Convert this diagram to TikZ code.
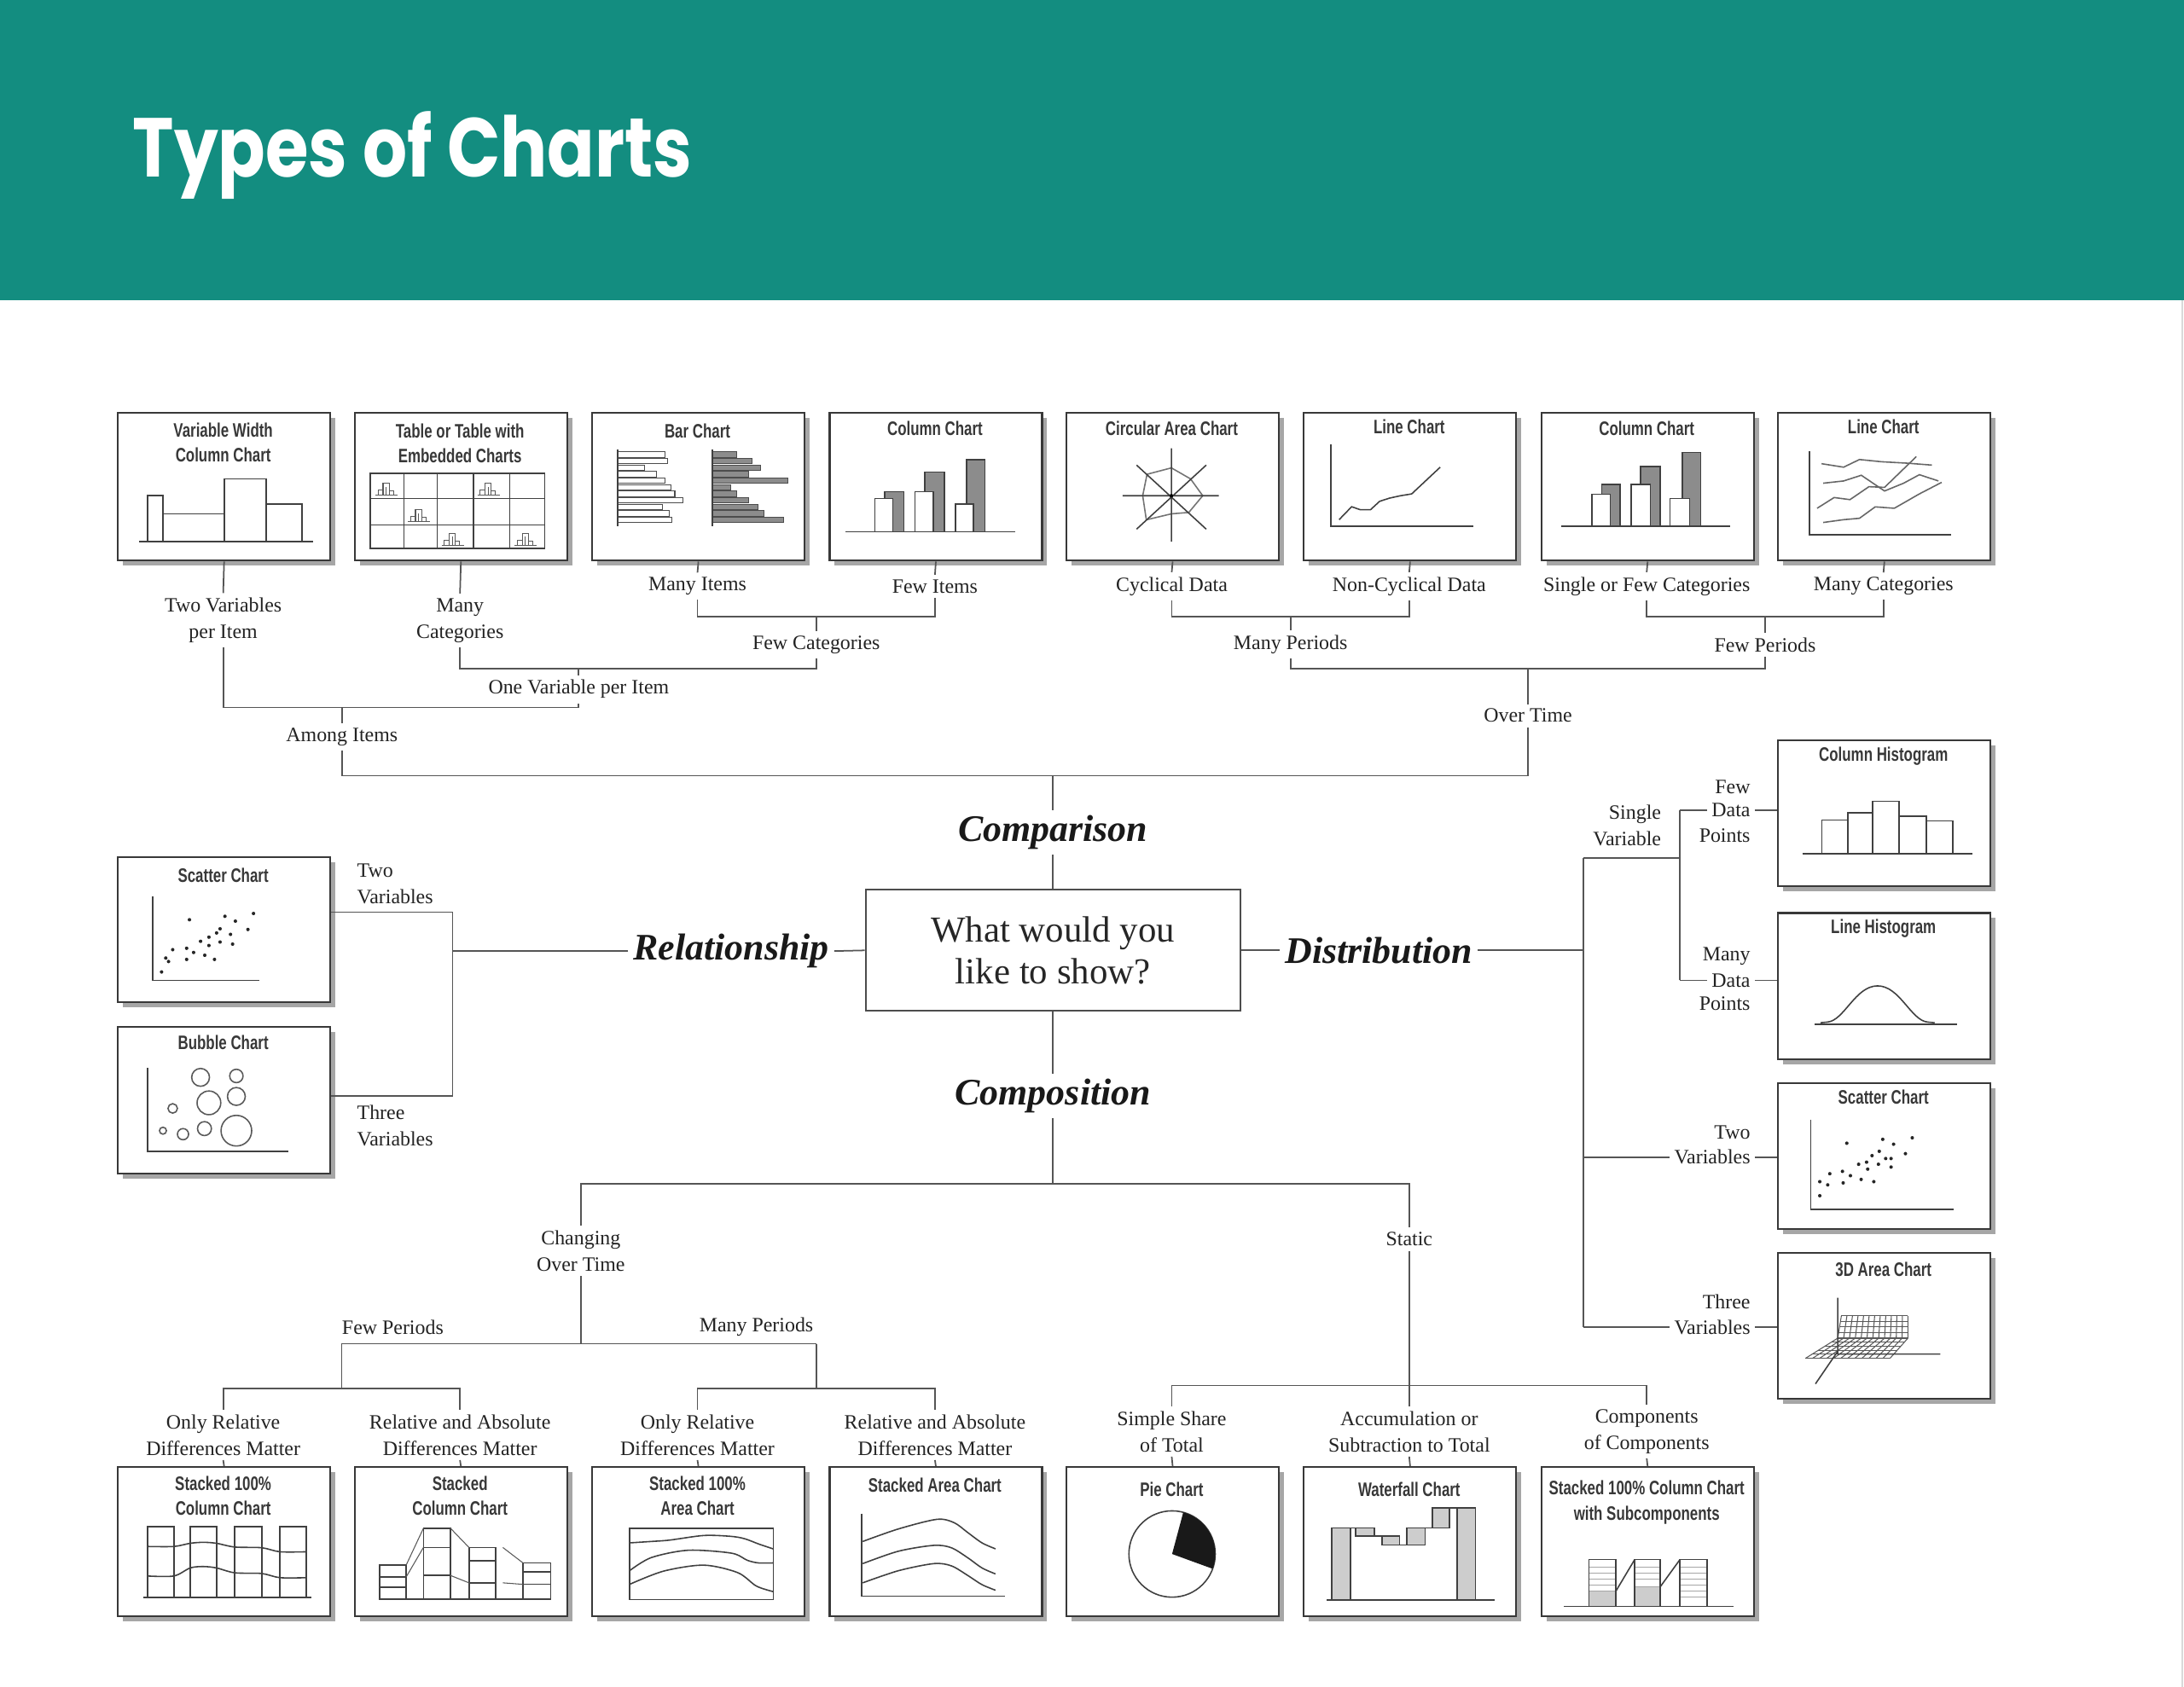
\documentclass[tikz,border=0pt]{standalone}
\usepackage{fontspec}
\setmainfont{Liberation Serif}
\newfontfamily\ttlfont{Liberation Sans}
\newfontfamily\hdfont{Poppins}
\usetikzlibrary{shadows}
\definecolor{tealband}{RGB}{19,141,128}
\definecolor{lncol}{RGB}{85,85,85}
\definecolor{txcol}{RGB}{35,35,35}
\definecolor{dkbar}{RGB}{140,140,140}
\definecolor{ltbar}{RGB}{205,205,205}
\newcommand\ctitle[1]{\scalebox{0.74}[1]{\ttlfont\bfseries\fontsize{6.5pt}{8.3pt}\selectfont\begin{tabular}{@{}c@{}}#1\end{tabular}}}
\tikzset{
  cbox/.style={draw=black!78, line width=0.6pt, fill=white, inner sep=0pt, anchor=north west,
    minimum width=2.49cm, drop shadow={shadow xshift=0.06cm,shadow yshift=-0.06cm,fill=black!35,opacity=1}},
  ttl/.style={inner sep=0pt, text=black!78},
  lbl/.style={font=\fontsize{6.8pt}{8.8pt}\selectfont, align=center, inner sep=1.4pt, text=txcol},
  mainlbl/.style={font=\fontsize{12.5pt}{14pt}\selectfont\bfseries\itshape, inner sep=1.5pt, text=black!90},
  qbox/.style={draw=black!70, line width=0.6pt, minimum width=4.392cm, minimum height=1.42cm, align=center,
    font=\fontsize{12.2pt}{14pt}\selectfont, text=black!85},
  conn/.style={draw=lncol, line width=0.5pt},
  ch/.style={draw=black!75, line width=0.45pt},
  chthin/.style={draw=black!65, line width=0.3pt},
}
\begin{document}
\begin{tikzpicture}[x=0.016327cm, y=-0.016327cm]
\useasboundingbox (0,0) rectangle (1568,1211.5);
\fill[white] (0,0) rectangle (1568,1211.5);
\fill[tealband] (0,0) rectangle (1568,215.5);
\draw[black!15, line width=0.6pt] (1566.8,215.5) -- (1566.8,1211.5);
\node[anchor=base west, inner sep=0pt, text=white] (title) at (95,127)
  {\scalebox{0.835}[1]{\hdfont\bfseries\fontsize{27.9pt}{30pt}\selectfont Types of Charts}};

% ---------- chart boxes ----------
\node[cbox, minimum height=1.7307cm] (t1) at (84,296) {};
\node[cbox, minimum height=1.7307cm] (t2) at (254,296) {};
\node[cbox, minimum height=1.7307cm] (t3) at (424.5,296) {};
\node[cbox, minimum height=1.7307cm] (t4) at (595,296) {};
\node[cbox, minimum height=1.7307cm] (t5) at (765,296) {};
\node[cbox, minimum height=1.7307cm] (t6) at (935.5,296) {};
\node[cbox, minimum height=1.7307cm] (t7) at (1106,296) {};
\node[cbox, minimum height=1.7307cm] (t8) at (1276,296) {};
\node[cbox, minimum height=1.698cm] (sc1) at (84,615) {};
\node[cbox, minimum height=1.714cm] (bb) at (84,737) {};
\node[cbox, minimum height=1.714cm] (chh) at (1276,531) {};
\node[cbox, minimum height=1.714cm] (lh) at (1276,655) {};
\node[cbox, minimum height=1.714cm] (sc2) at (1276,777) {};
\node[cbox, minimum height=1.714cm] (a3) at (1276,899) {};
\node[cbox, minimum height=1.747cm] (b1) at (84,1053) {};
\node[cbox, minimum height=1.747cm] (b2) at (254,1053) {};
\node[cbox, minimum height=1.747cm] (b3) at (424.5,1053) {};
\node[cbox, minimum height=1.747cm] (b4) at (595,1053) {};
\node[cbox, minimum height=1.747cm] (b5) at (765,1053) {};
\node[cbox, minimum height=1.747cm] (b6) at (935.5,1053) {};
\node[cbox, minimum height=1.747cm] (b7) at (1106,1053) {};

% ---------- box titles ----------
\node[ttl] (t1t) at (160.25,319) {\ctitle{Variable Width\\Column Chart}};
\node[ttl] (t2t) at (330.25,320) {\ctitle{Table or Table with\\Embedded Charts}};
\node[ttl] (t3t) at (500.75,311) {\ctitle{Bar Chart}};
\node[ttl] (t4t) at (671.25,309) {\ctitle{Column Chart}};
\node[ttl] (t5t) at (841.25,309) {\ctitle{Circular Area Chart}};
\node[ttl] (t6t) at (1011.75,308) {\ctitle{Line Chart}};
\node[ttl] (t7t) at (1182.25,309) {\ctitle{Column Chart}};
\node[ttl] (t8t) at (1352.25,308) {\ctitle{Line Chart}};
\node[ttl] (sc1t) at (160.25,630) {\ctitle{Scatter Chart}};
\node[ttl] (bbt) at (160.25,750) {\ctitle{Bubble Chart}};
\node[ttl] (chht) at (1352.25,543) {\ctitle{Column Histogram}};
\node[ttl] (lht) at (1352.25,667) {\ctitle{Line Histogram}};
\node[ttl] (sc2t) at (1352.25,789) {\ctitle{Scatter Chart}};
\node[ttl] (a3t) at (1352.25,913) {\ctitle{3D Area Chart}};
\node[ttl] (b1t) at (160.25,1075.5) {\ctitle{Stacked 100\%\\Column Chart}};
\node[ttl] (b2t) at (330.25,1075.5) {\ctitle{Stacked\\Column Chart}};
\node[ttl] (b3t) at (500.75,1075.5) {\ctitle{Stacked 100\%\\Area Chart}};
\node[ttl] (b4t) at (671.25,1068) {\ctitle{Stacked Area Chart}};
\node[ttl] (b5t) at (841.25,1071) {\ctitle{Pie Chart}};
\node[ttl] (b6t) at (1011.75,1071) {\ctitle{Waterfall Chart}};
\node[ttl] (b7t) at (1182.25,1079) {\ctitle{Stacked 100\% Column Chart\\with Subcomponents}};

% ---------- mini charts ----------
% variable width
\begin{scope}[shift={(84,296)}]
\draw[ch] (16,93) -- (141,93);
\draw[ch] (22,93) -- (22,60) -- (33,60) -- (33,93) (33,73) -- (77,73) (77,93) -- (77,48) -- (107,48) -- (107,93) (107,66) -- (133,66) -- (133,93);
\end{scope}
% table
\begin{scope}[shift={(254,296)}]
\draw[ch] (12,44) rectangle (137,98);
\foreach \xx in {36,60,86,112} \draw[ch] (\xx,44) -- (\xx,98);
\foreach \yy in {62,81} \draw[ch] (12,\yy) -- (137,\yy);
\foreach \px/\py in {15.5/59.5, 88.7/59.5, 38.8/78.5, 63/95.5, 115.5/95.5} {
  \draw[chthin] (\px,\py) -- ++(16,0);
  \draw[chthin] ({\px+2},\py) -- ++(0,-3.5) -- ++(3.5,0) -- ++(0,3.5);
  \draw[chthin] ({\px+5.5},\py) -- ++(0,-8.5) -- ++(4.5,0) -- ++(0,8.5);
  \draw[chthin] ({\px+7.7},\py) -- ++(0,-6);
  \draw[chthin] ({\px+10},\py) -- ++(0,-3) -- ++(3,0) -- ++(0,3);
}
\end{scope}
% bar chart
\begin{scope}[shift={(424.5,296)}]
\foreach \e [count=\i] in {53,55,38,47,53,57,60,66,51,56,58}
  \draw[chthin, draw=black!70, fill=white] (19,{28.5+(\i-1)*4.7}) rectangle (\e,{28.5+(\i-1)*4.7+3.9});
\draw[ch] (19,27) -- (19,82);
\foreach \e [count=\i] in {104.5,115.3,121.8,113.1,141,100.2,104.5,113.1,119.6,123.9,138.1}
  \draw[chthin, draw=black!70, fill=dkbar] (87,{28.5+(\i-1)*4.7}) rectangle (\e,{28.5+(\i-1)*4.7+3.9});
\draw[ch] (87,27) -- (87,82);
\end{scope}
% column chart
\begin{scope}[shift={(595,296)}]
\draw[ch] (12,86) -- (134,86);
\draw[ch, fill=dkbar] (40,86) rectangle (54,57);
\draw[ch, fill=white] (33,86) rectangle (46,62);
\draw[ch, fill=dkbar] (69,86) rectangle (83,43);
\draw[ch, fill=white] (62,86) rectangle (75,57);
\draw[ch, fill=dkbar] (99,86) rectangle (112,34);
\draw[ch, fill=white] (91,86) rectangle (104,66);
\end{scope}
% circular area
\begin{scope}[shift={(765,296)}]
\draw[draw=black!55, line width=0.45pt] (76,40) -- (89.75,47.9) -- (98.5,60) -- (88.5,72) -- (76,73) -- (58,77.3) -- (55.4,60) -- (58.5,44.6) -- cycle;
\draw[ch] (76,26) -- (76,93) (41,60) -- (110,60) (51,38) -- (101,84) (101,38) -- (51,84);
\fill[black] (76,60) circle[radius=1.3];
\end{scope}
% line chart
\begin{scope}[shift={(935.5,296)}]
\draw[ch] (20,23) -- (20,82) -- (122,82);
\draw[ch] (25.9,77.2) -- (34.9,67.9) -- (41,70) -- (48.5,70) -- (55,64) -- (62.2,61.7) -- (70,60) -- (78,58.7) -- (98.5,39.5);
\end{scope}
% column chart 2
\begin{scope}[shift={(1106,296)}]
\draw[ch] (15,82) -- (136,82);
\draw[ch, fill=dkbar] (44,82) rectangle (57,52);
\draw[ch, fill=white] (37,82) rectangle (50,59);
\draw[ch, fill=dkbar] (72,82) rectangle (86,39);
\draw[ch, fill=white] (65,82) rectangle (79,52);
\draw[ch, fill=dkbar] (102,82) rectangle (115,29);
\draw[ch, fill=white] (93,82) rectangle (107,62);
\end{scope}
% line chart many
\begin{scope}[shift={(1276,296)}]
\draw[ch] (23,28) -- (23,88) -- (125,88);
\draw[draw=black!60, line width=0.45pt] (31.8,37) -- (47.6,39.5) -- (59,34) -- (74.9,35.6) -- (93,36.6) -- (111,38);
\draw[draw=black!60, line width=0.45pt] (33,51) -- (47.6,49.4) -- (60.3,45.3) -- (77,56.6) -- (90.7,51) -- (102,44.9) -- (115.7,49.4);
\draw[draw=black!60, line width=0.45pt] (28.6,69) -- (40.8,61.3) -- (52.2,62.8) -- (65.8,53.5) -- (77,54) -- (99.8,31.9);
\draw[draw=black!60, line width=0.45pt] (33,79.2) -- (47.6,77.2) -- (59,76.2) -- (70.3,68) -- (84,69) -- (102,58.7) -- (118,50.4);
\end{scope}
% scatter left
\begin{scope}[shift={(84,615)}]
\draw[ch] (25.5,29) -- (25.5,89) -- (102,89);
\foreach \a/\b in {52/45.5,77.5/43,85/46.5,98/41,94/52.5,74/52,81.5/56,71.5/55,66/58,60/61,74/61.5,83/63,66/64,50/66,40/67,55/69,63/71,70/74,50/74,35/73,37/75.5,32/83}
  \fill[black!85] (\a,\b) circle[radius=1.25];
\end{scope}
% bubble
\begin{scope}[shift={(84,737)}]
\draw[ch] (22,30) -- (22,90) -- (123,90);
\foreach \a/\b/\r in {60/36.7/6.4, 85.7/35.7/4.8, 66/55/8.5, 85.7/50.4/6.4, 40/59/3.4, 33/75/2.5, 47.4/77.5/4, 62.8/73.5/5, 85.7/75/11}
  \draw[draw=black!65, line width=0.45pt] (\a,\b) circle[radius=\r];
\end{scope}
% column histogram
\begin{scope}[shift={(1276,531)}]
\draw[ch] (18,82) -- (140,82);
\draw[ch] (32,82) rectangle (50.6,58);
\draw[ch] (50.6,82) rectangle (68.6,52.7);
\draw[ch] (68.6,82) rectangle (87.4,44.5);
\draw[ch] (87.4,82) rectangle (107,55);
\draw[ch] (107,82) rectangle (126,58.4);
\end{scope}
% line histogram
\begin{scope}[shift={(1276,655)}]
\draw[ch] (27,80.6) -- (129,80.6);
\draw[ch] (31,79.5) -- (36,79) .. controls (48,78) and (56,53) .. (72,53) .. controls (88,53) and (96,78) .. (108,79) -- (113,79.5);
\end{scope}
% scatter right
\begin{scope}[shift={(1276,777)}]
\draw[ch] (24,27) -- (24,91.6) -- (126.7,91.6);
\foreach \a/\b in {49.9/44, 75.7/41.2, 83.5/44.7, 96.9/40.1, 92/51.5, 73.2/49.8, 68/52.9, 77.8/55, 81.7/55, 64.1/57.6, 58.4/59.1, 72.6/59.1, 64.9/62.6, 81.7/61.1, 37.7/65.9, 46.8/64.2, 52.5/67.3, 60.2/70, 69.3/71.6, 30.5/71.6, 36.2/73.9, 47.3/72.5, 30.5/81.7}
  \fill[black!85] (\a,\b) circle[radius=1.25];
\end{scope}
% 3D area
\begin{scope}[shift={(1276,899)}]
\foreach \k in {0,...,12}
  \draw[chthin] ({46+47.8*\k/12},46) -- ({43.4+50.4*\k/12},62) -- ({20.2+60.7*\k/12},76.5);
\foreach \t in {0,...,4}
  \draw[chthin] ({46-2.6*\t/4},{46+16*\t/4}) -- (93.8,{46+16*\t/4});
\foreach \t in {1,...,5}
  \draw[chthin] ({43.4-23.2*\t/5},{62+14.5*\t/5}) -- ({93.8-12.9*\t/5},{62+14.5*\t/5});
\draw[ch] (43.4,33) -- (43.4,73.4) -- (117,73.4) (43.4,71.4) -- (27.4,94.8);
\end{scope}
% stacked 100% column
\begin{scope}[shift={(84,1053)}]
\draw[ch] (18.8,94.3) -- (139.4,94.3);
\foreach \l/\r in {21.9/40.8, 52.6/71.4, 84.6/103.9, 117/135.8} \draw[ch] (\l,94.3) rectangle (\r,43.4);
\draw[ch] plot[smooth, tension=0.5] coordinates {(21.9,57.6) (40.8,57.6) (52.6,55.3) (62,54.6) (71.4,55.3) (84.6,58) (103.9,58.5) (117,61.4) (135.8,61.4)};
\draw[ch] plot[smooth, tension=0.5] coordinates {(21.9,78.8) (40.8,78.8) (52.6,73) (62,72) (71.4,73) (84.6,76.5) (103.9,77) (117,80) (135.8,80)};
\end{scope}
% stacked column
\begin{scope}[shift={(254,1053)}]
\draw[ch] (17.7,95.3) -- (141.4,95.3);
\draw[ch] (18.6,95.3) rectangle (37.6,71) (18.6,79.5) -- (37.6,79.5) (18.6,86.9) -- (37.6,86.9);
\draw[ch] (50,95.3) rectangle (69.4,44.5) (50,58.3) -- (69.4,58.3) (50,78.4) -- (69.4,78.4);
\draw[ch] (82.7,95.3) rectangle (101.7,58.3) (82.7,67.8) -- (101.7,67.8) (82.7,83.7) -- (101.7,83.7);
\draw[ch] (121.6,95.3) rectangle (141.4,69.5) (121.6,75.9) -- (141.4,75.9) (121.6,84.8) -- (141.4,84.8);
\draw[chthin] (37.6,71) -- (50,44.5) (37.6,79.5) -- (50,58.3) (69.4,44.5) -- (82.7,58.3) (69.4,78.4) -- (82.7,83.7) (107,58.3) -- (121.6,69.5) (107,83.7) -- (121.6,84.8);
\end{scope}
% stacked 100% area
\begin{scope}[shift={(424.5,1053)}]
\draw[ch] (27.5,44.5) rectangle (130.6,95.7);
\draw[ch] plot[smooth] coordinates {(27.5,55) (43,54) (56.4,53) (80.8,49.7) (100,50.3) (110,52) (120.7,56) (130.6,59.3)};
\draw[ch] plot[smooth] coordinates {(27.5,75) (43,65.6) (69.6,60.3) (100.7,62.4) (112,67.5) (120,69.4) (130.6,69.4)};
\draw[ch] plot[smooth] coordinates {(27.5,84.8) (51.9,75.3) (80.8,71) (105.2,76.4) (118.5,86) (130.6,90)};
\end{scope}
% stacked area
\begin{scope}[shift={(595,1053)}]
\draw[ch] (23.5,33.9) -- (23.5,93.2) -- (126.4,93.2);
\draw[ch] plot[smooth] coordinates {(24.4,54) (50,45) (77.6,38.1) (90,40.5) (99.8,47.6) (110,55) (119.7,59.3)};
\draw[ch] plot[smooth] coordinates {(24.4,69.9) (50,61) (75.4,56.8) (88,58.5) (99.8,65.7) (110,73) (119.7,77.3)};
\draw[ch] plot[smooth] coordinates {(24.4,83.7) (50,75) (75.4,69.9) (88,71.5) (99.8,78.4) (110,85) (119.7,89)};
\end{scope}
% pie
\begin{scope}[shift={(765,1053)}]
\draw[ch, fill=white] (76.5,63) circle[radius=31];
\fill[black!90] (76.5,63) -- ++(-75:31) arc[start angle=-75, end angle=20, radius=31] -- cycle;
\end{scope}
% waterfall
\begin{scope}[shift={(935.5,1053)}]
\draw[ch] (17,96.2) -- (137.8,96.2);
\draw[ch, fill=ltbar] (20.5,44.3) rectangle (34,96.2);
\draw[ch, fill=ltbar] (37.7,44.3) rectangle (51.2,50.1);
\draw[ch, fill=ltbar] (56.9,50.1) rectangle (69.3,56.6);
\draw[ch, fill=ltbar] (74.6,44.3) rectangle (87.6,56.6);
\draw[ch, fill=ltbar] (92.9,29.8) rectangle (105.3,44.3);
\draw[ch, fill=ltbar] (110.6,29.8) rectangle (123.7,96.2);
\draw[ch] (34,44.3) -- (37.7,44.3) (51.2,50.1) -- (56.9,50.1) (69.3,56.6) -- (74.6,56.6) (87.6,44.3) -- (92.9,44.3) (105.3,29.8) -- (110.6,29.8);
\end{scope}
% stacked 100% with subcomponents
\begin{scope}[shift={(1106,1053)}]
\fill[ltbar] (34.7,89.7) rectangle (54.1,100.5);
\fill[ltbar] (67.6,86.5) rectangle (86,100.5);
\foreach \yy in {72.4,76.7,81,85.4,89.7} \draw[black!35, line width=0.4pt] (34.7,\yy) -- (54.1,\yy);
\foreach \yy in {72.4,76.7,81,86.5} \draw[black!35, line width=0.4pt] (67.6,\yy) -- (86,\yy);
\foreach \yy in {72.4,76.7,81,85.4,89.7,94} \draw[black!35, line width=0.4pt] (100.1,\yy) -- (119.6,\yy);
\draw[ch] (17,100.5) -- (138.3,100.5);
\foreach \l/\r in {34.7/54.1, 67.6/86, 100.1/119.6} \draw[ch] (\l,100.5) rectangle (\r,67);
\draw[ch] (54.1,89.7) -- (67.6,67) (86,86.5) -- (100.1,67);
\end{scope}

% ---------- centre ----------
\node[qbox] (q) at (756,682.5) {What would you\\like to show?};
\node[mainlbl] (cmp) at (756,598) {Comparison};
\node[mainlbl] (rel) at (525,683) {Relationship};
\node[mainlbl] (dist) at (990,682.5) {Distribution};
\node[mainlbl] (comp) at (756,787) {Composition};

% ---------- comparison tree ----------
\node[lbl] (l_tv) at (160.25,445.5) {Two Variables\\per Item};
\node[lbl] (l_mc) at (330.25,445.5) {Many\\Categories};
\node[lbl] (l_mi) at (500.75,421) {Many Items};
\node[lbl] (l_fi) at (671.25,421) {Few Items};
\node[lbl] (l_fc) at (586,463) {Few Categories};
\node[lbl] (l_ov) at (415.5,495) {One Variable per Item};
\node[lbl] (l_ai) at (245.5,529) {Among Items};
\node[lbl] (l_cd) at (841.25,421) {Cyclical Data};
\node[lbl] (l_nc) at (1011.75,421) {Non-Cyclical Data};
\node[lbl] (l_sf) at (1182.25,421) {Single or Few Categories};
\node[lbl] (l_mca) at (1352.25,421) {Many Categories};
\node[lbl] (l_mp) at (926.5,463) {Many Periods};
\node[lbl] (l_fp) at (1267.25,463) {Few Periods};
\node[lbl] (l_ot) at (1097,514) {Over Time};

\coordinate (j_fc) at (586,443);
\coordinate (j_ov) at (415.5,480);
\coordinate (j_ai) at (245.5,508);
\coordinate (j_mp) at (926.5,443);
\coordinate (j_fp) at (1267.25,443);
\coordinate (j_ot) at (1097,480);
\coordinate (j_cmp) at (756,557);

\draw[conn] (t1.south) -- (l_tv.north);
\draw[conn] (t2.south) -- (l_mc.north);
\draw[conn] (t3.south) -- (l_mi.north);
\draw[conn] (t4.south) -- (l_fi.north);
\draw[conn] (t5.south) -- (l_cd.north);
\draw[conn] (t6.south) -- (l_nc.north);
\draw[conn] (t7.south) -- (l_sf.north);
\draw[conn] (t8.south) -- (l_mca.north);
\draw[conn] (l_mi.south) |- (j_fc) -| (l_fi.south);
\draw[conn] (j_fc) -- (l_fc.north);
\draw[conn] (l_mc.south) |- (j_ov) -| (l_fc.south);
\draw[conn] (j_ov) -- (l_ov.north);
\draw[conn] (l_tv.south) |- (j_ai) -| (l_ov.south);
\draw[conn] (j_ai) -- (l_ai.north);
\draw[conn] (l_cd.south) |- (j_mp) -| (l_nc.south);
\draw[conn] (j_mp) -- (l_mp.north);
\draw[conn] (l_sf.south) |- (j_fp) -| (l_mca.south);
\draw[conn] (j_fp) -- (l_fp.north);
\draw[conn] (l_mp.south) |- (j_ot) -| (l_fp.south);
\draw[conn] (j_ot) -- (l_ot.north);
\draw[conn] (l_ai.south) |- (j_cmp) -| (l_ot.south);
\draw[conn] (j_cmp) -- (cmp.north);
\draw[conn] (cmp.south) -- (q.north);

% ---------- relationship ----------
\coordinate (j_rel) at (325,683);
\coordinate (j_two) at (325,655);
\coordinate (j_three) at (325,787);
\draw[conn] (q.west) -- (rel.east);
\draw[conn] (rel.west) -- (j_rel);
\draw[conn] (j_two -| sc1.east) -- (j_two) -- (j_three) -- (j_three -| bb.east);
\node[lbl, align=left, anchor=west] (l_2v) at (253,634.5) {Two\\Variables};
\node[lbl, align=left, anchor=west] (l_3v) at (253,808.5) {Three\\Variables};

% ---------- distribution ----------
\coordinate (j_dist) at (1137,682.5);
\coordinate (j_sv) at (1137,616);
\coordinate (j_sv2) at (1206,616);
\coordinate (j_fd) at (1206,582);
\coordinate (j_md) at (1206,704);
\coordinate (j_2v) at (1137,831);
\coordinate (j_3v) at (1137,953);
\draw[conn] (q.east) -- (dist.west);
\draw[conn] (dist.east) -- (j_dist);
\draw[conn] (j_sv) -- (j_3v);
\draw[conn] (j_sv) -- (j_sv2);
\draw[conn] (j_fd) -- (j_md);
\node[lbl, align=right, anchor=south east] (l_sv) at (1196,611) {Single\\Variable};
\node[lbl, anchor=east] (l_fdd) at (1260,582) {Data};
\node[lbl, anchor=east] (l_fdf) at (1260,565) {Few};
\node[lbl, anchor=east] (l_fdp) at (1260,600) {Points};
\node[lbl, anchor=east] (l_mdd) at (1260,704) {Data};
\node[lbl, anchor=east] (l_mdm) at (1260,687) {Many};
\node[lbl, anchor=east] (l_mdp) at (1260,721) {Points};
\node[lbl, anchor=east] (l_r2v) at (1260,831) {Variables};
\node[lbl, anchor=east] (l_r2t) at (1260,813) {Two};
\node[lbl, anchor=east] (l_r3v) at (1260,953) {Variables};
\node[lbl, anchor=east] (l_r3t) at (1260,935) {Three};
\draw[conn] (j_fd) -- (l_fdd.west);
\draw[conn] (l_fdd.east) -- (l_fdd.east -| chh.west);
\draw[conn] (j_md) -- (l_mdd.west);
\draw[conn] (l_mdd.east) -- (l_mdd.east -| lh.west);
\draw[conn] (j_2v) -- (l_r2v.west);
\draw[conn] (l_r2v.east) -- (l_r2v.east -| sc2.west);
\draw[conn] (j_3v) -- (l_r3v.west);
\draw[conn] (l_r3v.east) -- (l_r3v.east -| a3.west);

% ---------- composition ----------
\node[lbl] (l_cot) at (417,898.5) {Changing\\Over Time};
\node[lbl] (l_st) at (1011.75,890) {Static};
\node[lbl] (l_fp2) at (282,953) {Few Periods};
\node[lbl] (l_mp2) at (543,953) {Many Periods};
\node[lbl] (l_b1) at (160.25,1030.5) {Only Relative\\Differences Matter};
\node[lbl] (l_b2) at (330.25,1030.5) {Relative and Absolute\\Differences Matter};
\node[lbl] (l_b3) at (500.75,1030.5) {Only Relative\\Differences Matter};
\node[lbl] (l_b4) at (671.25,1030.5) {Relative and Absolute\\Differences Matter};
\node[lbl] (l_b5) at (841.25,1028) {Simple Share\\of Total};
\node[lbl] (l_b6) at (1011.75,1028) {Accumulation or\\Subtraction to Total};
\node[lbl] (l_b7) at (1182.25,1028) {Components\\of Components};

\coordinate (j_comp) at (756,850);
\coordinate (j_cot) at (417,965);
\coordinate (j_fp2) at (245.25,965);
\coordinate (j_mp2) at (586,965);
\coordinate (j_fp3) at (245.25,997);
\coordinate (j_mp3) at (586,997);
\coordinate (j_st) at (1011.75,995);
\draw[conn] (q.south) -- (comp.north);
\draw[conn] (comp.south) -- (j_comp);
\draw[conn] (l_cot.north) |- (j_comp) -| (l_st.north);
\draw[conn] (l_cot.south) -- (j_cot);
\draw[conn] (j_fp2) -- (j_mp2);
\draw[conn] (j_fp2) -- (j_fp3);
\draw[conn] (j_mp2) -- (j_mp3);
\draw[conn] (l_b1.north) |- (j_fp3) -| (l_b2.north);
\draw[conn] (l_b3.north) |- (j_mp3) -| (l_b4.north);
\draw[conn] (l_st.south) -- (l_b6.north);
\draw[conn] (l_b5.north) |- (j_st) -| (l_b7.north);
\draw[conn] (l_b1.south) -- (b1.north);
\draw[conn] (l_b2.south) -- (b2.north);
\draw[conn] (l_b3.south) -- (b3.north);
\draw[conn] (l_b4.south) -- (b4.north);
\draw[conn] (l_b5.south) -- (b5.north);
\draw[conn] (l_b6.south) -- (b6.north);
\draw[conn] (l_b7.south) -- (b7.north);
\end{tikzpicture}
\end{document}
